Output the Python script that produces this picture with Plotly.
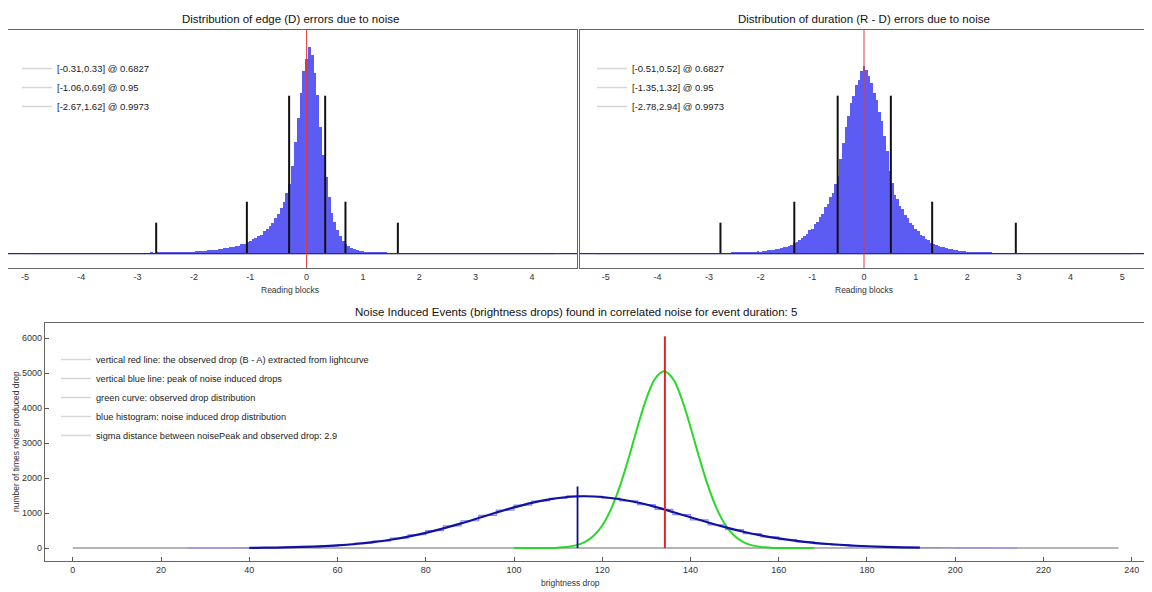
"""
plot.py - noise analysis figure: edge / duration error distributions and
noise induced brightness-drop events, rebuilt with Plotly.
"""

import plotly.graph_objects as plotly_go
from plotly.subplots import make_subplots

# --- edge (D) error histogram, bins of 0.05 reading blocks starting at -3.0
EDGE_BIN_START = -3.0
EDGE_BIN_WIDTH = 0.05
EDGE_COUNTS = [
    0.5, 0.6, 0.4, 0.7, 0.5, 0.8, 0.6, 0.9, 0.8, 1.1,
    0.9, 1.2, 1.1, 1.4, 1.2, 1.6, 1.5, 1.9, 1.7, 2.2,
    2.0, 2.5, 2.4, 2.9, 2.8, 3.4, 3.3, 3.9, 3.8, 4.6,
    4.5, 5.4, 5.3, 6.4, 6.5, 7.6, 7.9, 9.3, 9.8, 11.6,
    12.4, 14.5, 15.3, 18.0, 19.2, 22.4, 24.5, 28.0, 30.6, 36.0,
    39.5, 46.0, 51.5, 61.0, 70.0, 88.0, 112.0, 136.0, 161.0, 183.0,
    195.0, 207.0, 199.0, 181.0, 159.0, 127.0, 99.0, 77.0, 57.0, 41.0,
    31.5, 23.5, 18.0, 12.6, 10.2, 7.3, 6.2, 4.6, 4.1, 3.1,
    2.9, 2.1, 2.0, 1.5, 1.4, 1.1, 1.0, 0.8, 0.8, 0.6,
    0.6, 0.5, 0.5, 0.4, 0.4, 0.3, 0.4, 0.3, 0.3, 0.2,
    0.3,
]
EDGE_SPAN = [-5.0, 4.4]
EDGE_CI_LOW = [-0.31, -1.06, -2.67]
EDGE_CI_HIGH = [0.33, 0.69, 1.62]
EDGE_CENTER = 0.0
EDGE_TICKS = [-5, -4, -3, -2, -1, 0, 1, 2, 3, 4]

# --- duration (R - D) error histogram
DUR_BIN_START = -3.0
DUR_BIN_WIDTH = 0.05
DUR_COUNTS = [
    0.3, 0.4, 0.3, 0.5, 0.4, 0.6, 0.5, 0.7, 0.7, 0.9,
    0.8, 1.1, 1.0, 1.3, 1.2, 1.6, 1.5, 1.9, 1.8, 2.3,
    2.2, 2.8, 2.7, 3.4, 3.5, 4.1, 4.4, 5.2, 5.6, 6.5,
    7.0, 8.2, 8.8, 10.4, 11.9, 13.8, 15.3, 18.2, 19.6, 23.4,
    25.2, 29.6, 31.4, 36.5, 40.2, 46.8, 50.1, 57.0, 61.2, 70.0,
    77.5, 95.0, 111.0, 127.0, 138.0, 151.0, 158.0, 169.0, 174.0, 183.0,
    188.0, 184.0, 178.0, 171.0, 161.0, 154.0, 142.0, 133.0, 118.0, 103.0,
    83.0, 71.0, 59.0, 55.0, 48.0, 44.5, 38.5, 35.5, 30.5, 28.4,
    24.6, 22.3, 19.0, 17.4, 14.6, 13.3, 11.2, 10.2, 8.7, 8.1,
    6.8, 6.4, 5.4, 5.1, 4.3, 4.0, 3.4, 3.2, 2.7, 2.6,
    2.1, 2.1, 1.7, 1.7, 1.3, 1.4, 1.0, 1.1, 0.8, 0.9,
    0.6, 0.7, 0.5, 0.6, 0.4, 0.5, 0.3, 0.4, 0.3, 0.3,
    0.2,
]
DUR_SPAN = [-5.2, 5.2]
DUR_CI_LOW = [-0.51, -1.35, -2.78]
DUR_CI_HIGH = [0.52, 1.32, 2.94]
DUR_CENTER = 0.0
DUR_TICKS = [-5, -4, -3, -2, -1, 0, 1, 2, 3, 4, 5]

CI_LEVELS = ["0.6827", "0.95", "0.9973"]
CI_TICK_HEIGHTS = [158, 52, 31]

# --- noise induced events (brightness drops)
NOISE_HIST_START = 26
NOISE_HIST_WIDTH = 4
NOISE_HIST_COUNTS = [
    1, 1, 2, 4, 8, 14, 24, 40, 62, 94,
    140, 200, 282, 380, 500, 635, 780, 935, 1085, 1225,
    1345, 1420, 1490, 1475, 1425, 1350, 1240, 1105, 955, 805,
    660, 525, 410, 318, 240, 178, 128, 92, 64, 44,
    30, 20, 13, 8, 5, 3, 2, 1,
]
NOISE_FIT_START = 40
NOISE_FIT_STEP = 4
NOISE_FIT = [
    6, 11, 19, 31, 49, 76, 115, 168, 237, 326,
    435, 562, 705, 859, 1014, 1162, 1292, 1393, 1458, 1480,
    1458, 1395, 1300, 1175, 1030, 880, 730, 590, 465, 360,
    275, 205, 150, 108, 76, 52, 35, 22, 14,
]
OBSERVED_START = 100
OBSERVED_STEP = 2
OBSERVED_DIST = [
    0, 0.1, 0.4, 1.3, 4, 12, 31, 76, 168, 343,
    644, 1112, 1767, 2579, 3460, 4269, 4842, 5050, 4842, 4269,
    3460, 2579, 1767, 1112, 644, 343, 168, 76, 31, 12,
    4, 1.3, 0.4, 0.1, 0,
]
OBSERVED_DROP = 134.2
OBSERVED_MARKER_TOP = 6050
NOISE_PEAK = 114.4
NOISE_MARKER_TOP = 1760
DROP_BASELINE = [0, 237]

EVENT_NOTES = [
    "vertical red line: the observed drop (B - A) extracted from lightcurve",
    "vertical blue line: peak of noise induced drops",
    "green curve: observed drop distribution",
    "blue histogram: noise induced drop distribution",
    "sigma distance between noisePeak and observed drop: 2.9",
]

FONT = "Liberation Sans"
PAGE_PAD = 8            # default body margin of the written html page
W, H = 1152 - PAGE_PAD, 592 - PAGE_PAD


def px_x(p):
    # screen pixel -> paper fraction
    return min(1.0, max(0.0, (p - PAGE_PAD) / W))


def px_y(p):
    return min(1.0, max(0.0, 1 - (p - PAGE_PAD) / H))


def ci_segments(lows, highs, heights):
    xs, ys = [], []
    for lo, hi, h in zip(lows, highs, heights):
        for v in (lo, hi):
            xs += [v, v, None]
            ys += [0, h, None]
    return xs, ys


def add_error_panel(fig, col, counts, start, width, span, lows, highs,
                    center, legend_name):
    fig.add_trace(
        plotly_go.Bar(
            x0=start, dx=width, y=counts, width=width,
            marker=dict(color="#5c5cf4", line=dict(width=0)),
            showlegend=False, hoverinfo="skip",
        ),
        row=1, col=col,
    )
    fig.add_hline(y=0, line=dict(color="#2c2c80", width=1.2), row=1, col=col)
    fig.add_trace(
        plotly_go.Scatter(
            x=span, y=[0, 0], mode="lines",
            line=dict(color="#b9b9c9", width=1.2),
            showlegend=False, hoverinfo="skip",
        ),
        row=1, col=col,
    )
    xs, ys = ci_segments(lows, highs, CI_TICK_HEIGHTS)
    fig.add_trace(
        plotly_go.Scatter(
            x=xs, y=ys, mode="lines",
            line=dict(color="#111111", width=2),
            showlegend=False, hoverinfo="skip",
        ),
        row=1, col=col,
    )
    fig.add_vline(x=center, line=dict(color="#e03a3a", width=1), row=1, col=col)
    for lo, hi, level in zip(lows, highs, CI_LEVELS):
        fig.add_trace(
            plotly_go.Scatter(
                x=[None], y=[None], mode="lines",
                line=dict(color="#d4d4d4", width=1.5),
                name=f"[{lo:.2f},{hi:.2f}] @ {level}",
                legend=legend_name,
            ),
            row=1, col=col,
        )


def main():
    fig = make_subplots(
        rows=2, cols=2,
        specs=[[{}, {}], [{"colspan": 2}, None]],
    )

    add_error_panel(fig, 1, EDGE_COUNTS, EDGE_BIN_START, EDGE_BIN_WIDTH,
                    EDGE_SPAN, EDGE_CI_LOW, EDGE_CI_HIGH, EDGE_CENTER, "legend")
    add_error_panel(fig, 2, DUR_COUNTS, DUR_BIN_START, DUR_BIN_WIDTH,
                    DUR_SPAN, DUR_CI_LOW, DUR_CI_HIGH, DUR_CENTER, "legend2")

    # bottom panel
    fig.add_trace(
        plotly_go.Scatter(
            x=DROP_BASELINE, y=[0, 0], mode="lines",
            line=dict(color="#b4b4b4", width=2),
            showlegend=False, hoverinfo="skip",
        ),
        row=2, col=1,
    )
    fig.add_trace(
        plotly_go.Scatter(
            x0=NOISE_HIST_START, dx=NOISE_HIST_WIDTH, y=NOISE_HIST_COUNTS,
            mode="lines", line=dict(color="#8a8aff", width=1.2, shape="hvh"),
            showlegend=False, hoverinfo="skip",
        ),
        row=2, col=1,
    )
    fig.add_trace(
        plotly_go.Scatter(
            x0=OBSERVED_START, dx=OBSERVED_STEP, y=OBSERVED_DIST,
            mode="lines", line=dict(color="#2ad82a", width=2, shape="spline"),
            showlegend=False, hoverinfo="skip",
        ),
        row=2, col=1,
    )
    fig.add_trace(
        plotly_go.Scatter(
            x0=NOISE_FIT_START, dx=NOISE_FIT_STEP, y=NOISE_FIT,
            mode="lines", line=dict(color="#1212a0", width=2.2, shape="spline"),
            showlegend=False, hoverinfo="skip",
        ),
        row=2, col=1,
    )
    fig.add_trace(
        plotly_go.Scatter(
            x=[NOISE_PEAK, NOISE_PEAK], y=[0, NOISE_MARKER_TOP], mode="lines",
            line=dict(color="#10108a", width=1.8),
            showlegend=False, hoverinfo="skip",
        ),
        row=2, col=1,
    )
    fig.add_trace(
        plotly_go.Scatter(
            x=[OBSERVED_DROP, OBSERVED_DROP], y=[0, OBSERVED_MARKER_TOP],
            mode="lines", line=dict(color="#e62222", width=2),
            showlegend=False, hoverinfo="skip",
        ),
        row=2, col=1,
    )
    for note in EVENT_NOTES:
        fig.add_trace(
            plotly_go.Scatter(
                x=[None], y=[None], mode="lines",
                line=dict(color="#d4d4d4", width=1.5),
                name=note, legend="legend3",
            ),
            row=2, col=1,
        )

    frame = dict(showline=True, linecolor="#666666", linewidth=1.3, mirror=True,
                 showgrid=False, zeroline=False, automargin=False)
    tick_font = dict(family=FONT, size=9, color="#333333")

    fig.update_xaxes(domain=[px_x(5), px_x(577)], range=[-5.3, 4.8],
                     tickvals=EDGE_TICKS, ticktext=[str(t) for t in EDGE_TICKS],
                     tickfont=tick_font, ticks="", row=1, col=1, **frame)
    fig.update_xaxes(domain=[px_x(580), px_x(1148)], range=[-5.5, 5.5],
                     tickvals=DUR_TICKS, ticktext=[str(t) for t in DUR_TICKS],
                     tickfont=tick_font, ticks="", row=1, col=2, **frame)
    fig.update_yaxes(domain=[px_y(268), px_y(30)], range=[-14.3, 223.7],
                     showticklabels=False, ticks="", row=1, col=1, **frame)
    fig.update_yaxes(domain=[px_y(268), px_y(30)], range=[-14.3, 223.7],
                     showticklabels=False, ticks="", row=1, col=2, **frame)
    fig.update_xaxes(domain=[px_x(45), px_x(1148)], range=[-6.3, 243.7],
                     tick0=0, dtick=20, ticks="inside", ticklen=4,
                     tickcolor="#555555", tickfont=tick_font, row=2, col=1, **frame)
    fig.update_yaxes(domain=[px_y(561), px_y(323)], range=[-370, 6430],
                     tick0=0, dtick=1000, ticks="inside", ticklen=4,
                     tickcolor="#555555", tickfont=tick_font, row=2, col=1, **frame)

    title_font = dict(family=FONT, size=11.5, color="#111111")
    label_font = dict(family=FONT, size=8.5, color="#333333")
    annotations = [
        dict(text="Distribution of edge (D) errors due to noise",
             x=px_x(290), y=px_y(19), font=title_font),
        dict(text="Distribution of duration (R - D) errors due to noise",
             x=px_x(864), y=px_y(19), font=title_font),
        dict(text="Noise Induced Events (brightness drops) found in correlated "
                  "noise for event duration: 5",
             x=px_x(576), y=px_y(312), font=title_font),
        dict(text="Reading blocks", x=px_x(290), y=px_y(290), font=label_font),
        dict(text="Reading blocks", x=px_x(864), y=px_y(290), font=label_font),
        dict(text="brightness drop", x=px_x(570), y=px_y(583), font=label_font),
        dict(text="number of times noise produced drop", x=px_x(16),
             y=px_y(442), textangle=-90, font=label_font),
    ]
    for a in annotations:
        a.update(xref="paper", yref="paper", showarrow=False,
                 xanchor="center", yanchor="middle")

    legend_style = dict(bgcolor="rgba(0,0,0,0)", borderwidth=0,
                        font=dict(family=FONT, size=9.5, color="#222222"),
                        xanchor="left", yanchor="top", itemwidth=30)
    small_legend = dict(legend_style, font=dict(family=FONT, size=9.2,
                                                color="#222222"))
    fig.update_layout(
        width=W, height=H,
        margin=dict(l=0, r=0, t=0, b=0),
        paper_bgcolor="white", plot_bgcolor="white",
        bargap=0,
        showlegend=True,
        legend=dict(x=px_x(17), y=px_y(54), **legend_style),
        legend2=dict(x=px_x(592), y=px_y(54), **legend_style),
        legend3=dict(x=px_x(56), y=px_y(345), **small_legend),
        annotations=fig.layout.annotations + tuple(annotations),
    )

    fig.write_html("out.html")


if __name__ == "__main__":
    main()
